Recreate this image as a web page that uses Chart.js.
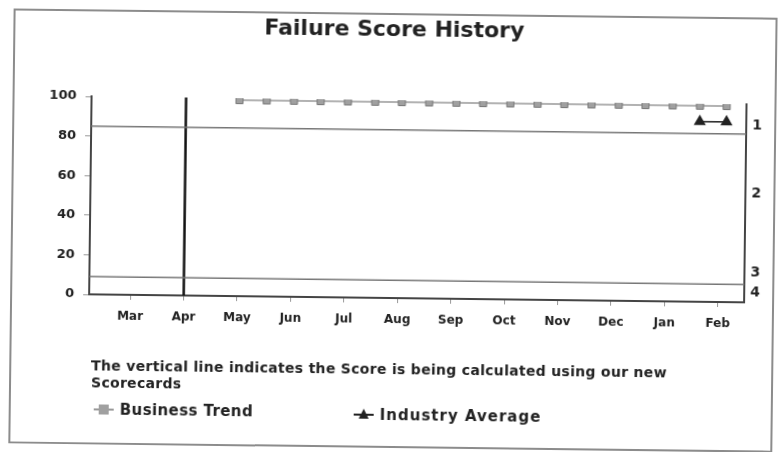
<!DOCTYPE html>
<html>
<head>
<meta charset="utf-8">
<script src="https://cdn.jsdelivr.net/npm/chart.js@4.4.1/dist/chart.umd.min.js"></script>
<style>
  html, body { margin: 0; padding: 0; background: #fff; overflow: hidden; }
  #sheet { position: relative; width: 779px; height: 452px; transform: rotate(0.7deg); transform-origin: 50% 50%;
           font-family: 'DejaVu Sans', sans-serif; font-weight: bold; color: #222; }
  #frame { position: absolute; left: 11px; top: 13px; width: 764px; height: 435px; border: 2px solid #8c8c8c; box-sizing: border-box; }
  #chart { position: absolute; left: 0; top: 0; }
  #title { position: absolute; left: 0; width: 784px; top: 16px; text-align: center; font-size: 22px; }
  #note { position: absolute; left: 93px; top: 361px; width: 640px; font-size: 14px; line-height: 17px; letter-spacing: 0.3px; }
  .legend { position: absolute; font-size: 15px; line-height: 18px; white-space: nowrap; }
  .mk { display: inline-block; position: relative; width: 20px; height: 12px; margin-right: 6px; vertical-align: -1px; }
  .mk::before { content: ''; position: absolute; left: 0; right: 0; top: 5px; height: 2px; background: #999; }
  .mk.sq::after { content: ''; position: absolute; left: 5px; top: 1px; width: 10px; height: 10px; background: #a0a0a0; }
  .mk.tri::before { background: #222; }
  .mk.tri::after { content: ''; position: absolute; left: 5px; top: 0; width: 0; height: 0;
                   border-left: 5px solid transparent; border-right: 5px solid transparent; border-bottom: 10px solid #222; }
</style>
</head>
<body>
<div id="sheet">
  <div id="frame"></div>
  <canvas id="chart" width="779" height="452"></canvas>
  <div id="title">Failure Score History</div>
  <div id="note">The vertical line indicates the Score is being calculated using our new<br>Scorecards</div>
  <div class="legend" style="left:96px; top:404px; letter-spacing: 0.4px;"><span class="mk sq"></span>Business Trend</div>
  <div class="legend" style="left:356px; top:406px; letter-spacing: 1px;"><span class="mk tri"></span>Industry Average</div>
</div>
<script>
// months on the x axis, position 0 = Mar
const months = ['Mar', 'Apr', 'May', 'Jun', 'Jul', 'Aug', 'Sep', 'Oct', 'Nov', 'Dec', 'Jan', 'Feb'];
const scoreTicks = [0, 20, 40, 60, 80, 100];

// Business Trend (semi-monthly readings, x in month positions)
const trendX = [2.0, 2.51, 3.02, 3.52, 4.03, 4.54, 5.04, 5.55, 6.06, 6.56, 7.07, 7.58, 8.08, 8.59, 9.10, 9.60, 10.11, 10.62, 11.12];
const trendScores = [99, 99, 99, 99, 99, 99, 99, 99, 99, 99, 99, 99, 99, 99, 99, 99, 99, 99, 99];

// Industry Average
const industryX = [10.62, 11.12];
const industryScores = [91, 91];

// risk class bands (right axis)
const bandLimits = [85, 9];
const classLabels = ['1', '2', '3', '4'];
const classLabelScores = [89, 55, 15, 5];

// new scorecards introduced
const newScorecardMonth = 1;

const xMin = -0.77, xMax = 11.49;

function toPoints(xs, ys) {
  return xs.map((x, i) => ({ x: x, y: ys[i] }));
}

const bandSets = bandLimits.map(v => ({
  data: [{ x: xMin, y: v }, { x: xMax, y: v }],
  borderColor: '#777', borderWidth: 1.5, pointRadius: 0
}));

new Chart(document.getElementById('chart'), {
  type: 'line',
  data: {
    datasets: [
      ...bandSets,
      {
        data: [{ x: newScorecardMonth, y: 0 }, { x: newScorecardMonth, y: 100 }],
        borderColor: '#111', borderWidth: 2.5, pointRadius: 0
      },
      {
        label: 'Business Trend',
        data: toPoints(trendX, trendScores),
        borderColor: '#999', borderWidth: 1.5,
        pointStyle: 'rect', pointRadius: 5,
        pointBackgroundColor: '#a0a0a0', pointBorderColor: '#787878', pointBorderWidth: 1
      },
      {
        label: 'Industry Average',
        data: toPoints(industryX, industryScores),
        borderColor: '#222', borderWidth: 1.5,
        pointStyle: 'triangle', pointRadius: 5.5,
        pointBackgroundColor: '#222', pointBorderColor: '#222'
      }
    ]
  },
  options: {
    responsive: false,
    animation: false,
    devicePixelRatio: 1,
    layout: { padding: { left: 20, top: 100, right: 4, bottom: 124 } },
    plugins: { legend: { display: false }, tooltip: { enabled: false } },
    scales: {
      x: {
        type: 'linear', min: xMin, max: xMax,
        afterBuildTicks: s => { s.ticks = months.map((m, i) => ({ value: i })); },
        afterFit: s => { s.height = 30; },
        ticks: { callback: v => months[v], color: '#222', padding: 10, maxRotation: 0, autoSkip: false,
                 font: { family: 'DejaVu Sans', weight: 'bold', size: 12 } },
        grid: { drawOnChartArea: false, drawTicks: true, tickLength: 5, color: '#999' },
        border: { color: '#444', width: 2 }
      },
      y: {
        min: 0, max: 100,
        afterBuildTicks: s => { s.ticks = scoreTicks.map(v => ({ value: v })); },
        afterFit: s => { s.width = 70; },
        ticks: { color: '#222', padding: 9, font: { family: 'DejaVu Sans', weight: 'bold', size: 13 } },
        grid: { drawOnChartArea: false, drawTicks: true, tickLength: 6, color: '#999' },
        border: { color: '#444', width: 2 }
      },
      y2: {
        position: 'right', min: 0, max: 100,
        afterBuildTicks: s => { s.ticks = classLabelScores.map(v => ({ value: v })); },
        afterFit: s => { s.width = 30; },
        ticks: { callback: v => classLabels[classLabelScores.indexOf(v)], color: '#222', padding: 6,
                 font: { family: 'DejaVu Sans', weight: 'bold', size: 14 } },
        grid: { drawOnChartArea: false, drawTicks: false },
        border: { color: '#444', width: 2 }
      }
    }
  }
});
</script>
</body>
</html>
